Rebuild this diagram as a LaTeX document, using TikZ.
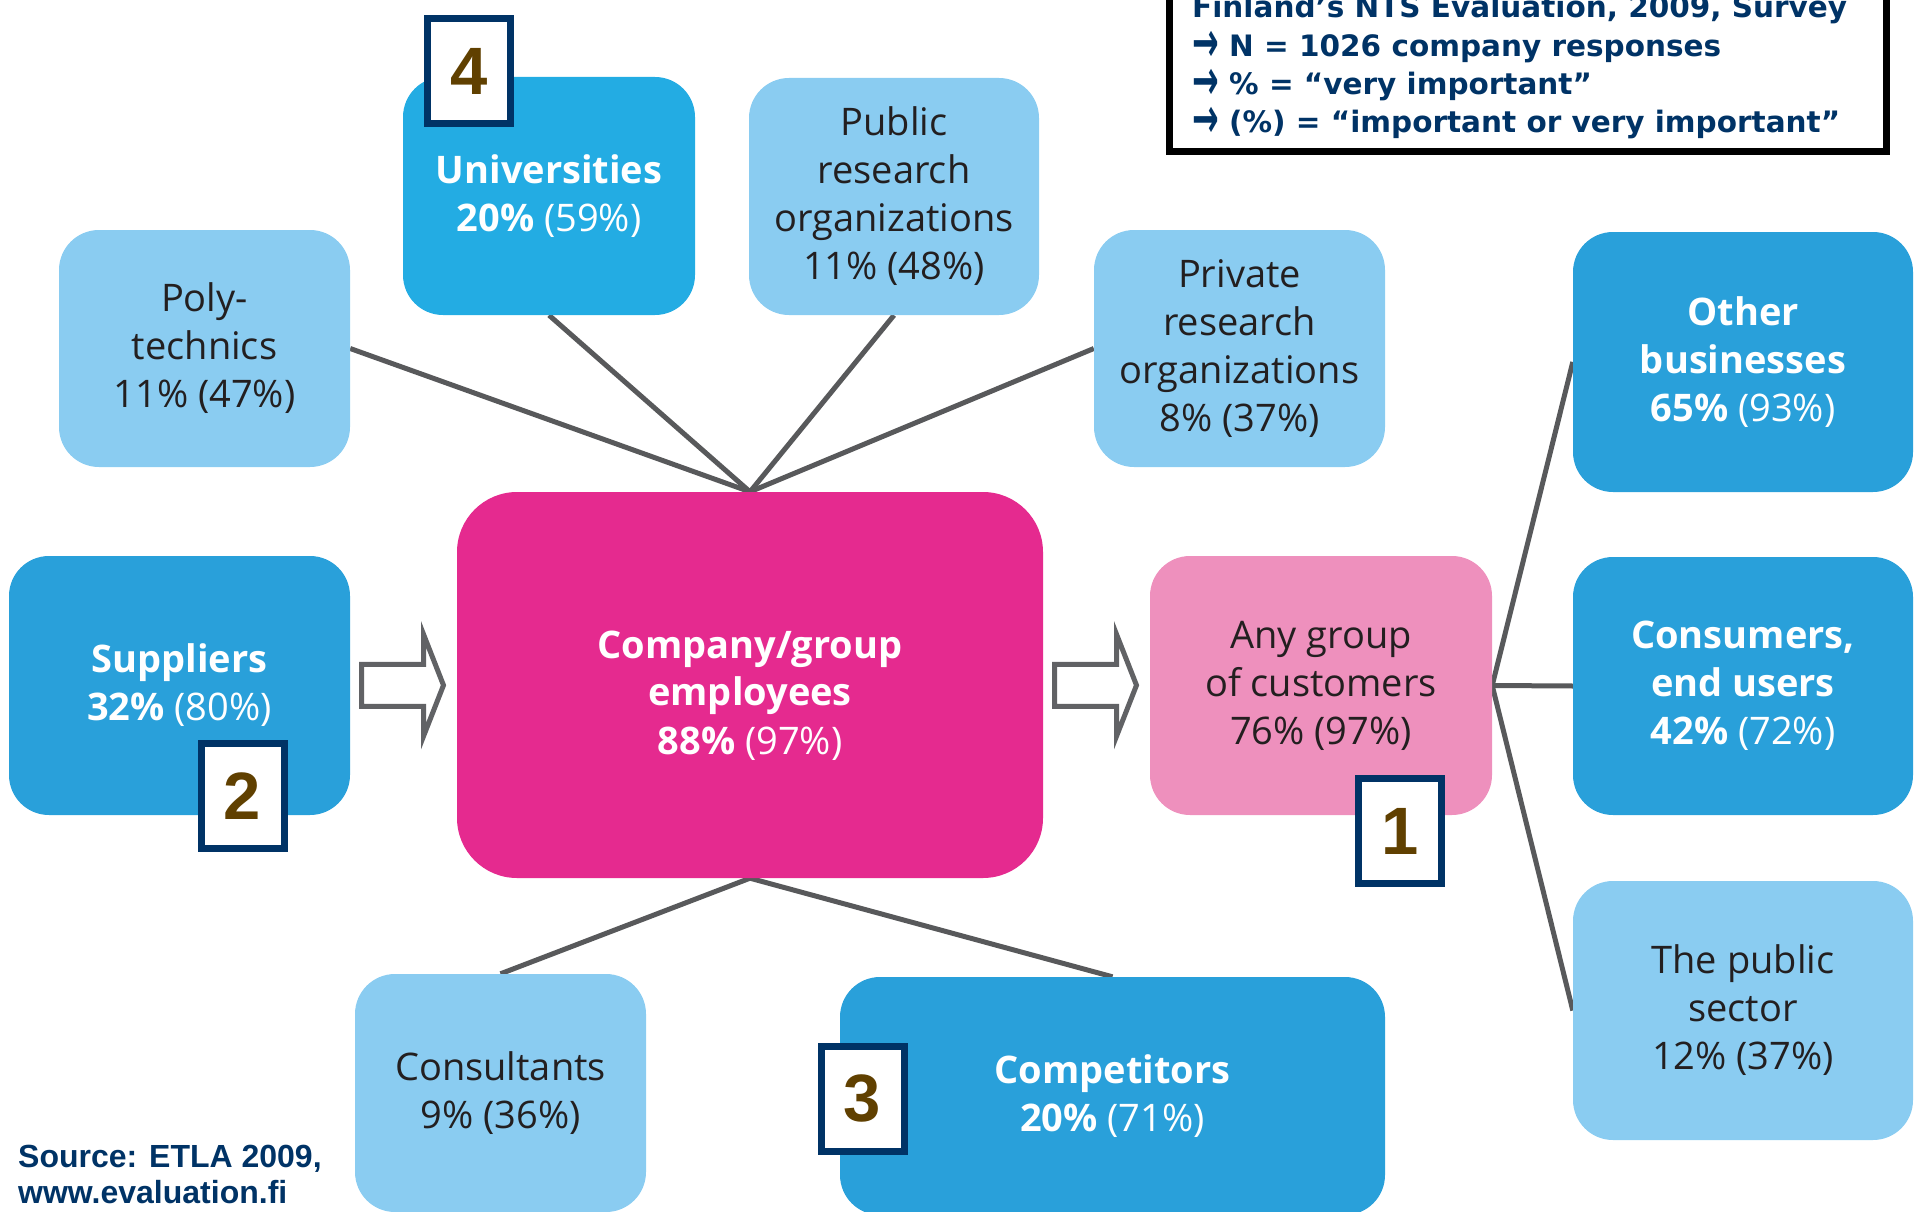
\documentclass[tikz,border=0pt]{standalone}
\usepackage{fontspec}
\setmainfont{Open Sans}
\newfontfamily\hdrfont{DejaVu Sans}
\newfontfamily\srcfont{Liberation Sans}
\usetikzlibrary{backgrounds}
\definecolor{midblue}{RGB}{41,160,218}
\definecolor{unblue}{RGB}{35,172,227}
\definecolor{lightblue}{RGB}{138,204,241}
\definecolor{magentabox}{RGB}{229,42,143}
\definecolor{pinkbox}{RGB}{238,144,189}
\definecolor{darktext}{RGB}{35,31,32}
\definecolor{linegray}{RGB}{88,89,91}
\definecolor{arrowgray}{RGB}{97,98,101}
\definecolor{navy}{RGB}{0,51,102}
\definecolor{badgebrown}{RGB}{96,64,0}
\newcommand{\notearr}{\raisebox{-5pt}[0pt][0pt]{\scalebox{1.08}[1.9]{→}}}
\begin{document}
\begin{tikzpicture}[x=1pt,y=-1pt,
  box/.style={rounded corners=40pt, inner sep=0pt, align=center, font=\fontsize{38}{48}\selectfont},
  lbox/.style={box, fill=lightblue, text=darktext},
  dbox/.style={box, fill=midblue, text=white},
  badge/.style={draw=navy, line width=7pt, fill=white, minimum width=83pt, minimum height=105pt, inner sep=0pt, text=badgebrown, font=\srcfont\bfseries\fontsize{67}{67}\selectfont},
  conn/.style={draw=linegray, line width=5pt},
  barrow/.style={draw=arrowgray, line width=5pt, fill=white, line join=miter},
  note/.style={text=navy, inner sep=0pt, anchor=base west, font=\hdrfont\bfseries\fontsize{29.5}{38}\selectfont},
  src/.style={text=navy, inner sep=0pt, anchor=base west, font=\srcfont\bfseries\fontsize{32}{38}\selectfont}
]
\useasboundingbox (0,0) rectangle (1915,1212);
\clip (0,0) rectangle (1915,1212);

% boxes
\node[lbox, minimum width=291pt, minimum height=237pt] (poly) at (204.5,348.5) {Poly-\\technics\\11\% (47\%)};
\node[box, fill=unblue, text=white, minimum width=292pt, minimum height=238pt] (univ) at (549,196) {\bfseries Universities\\{\bfseries 20\%} (59\%)};
\node[lbox, minimum width=290pt, minimum height=237pt] (pubres) at (894,196.5) {Public\\research\\organizations\\11\% (48\%)};
\node[lbox, minimum width=291pt, minimum height=237pt] (privres) at (1239.5,348.5) {Private\\research\\organizations\\8\% (37\%)};
\node[dbox, minimum width=340pt, minimum height=260pt] (other) at (1743,362) {\bfseries Other\\\bfseries businesses\\{\bfseries 65\%} (93\%)};
\node[dbox, minimum width=340pt, minimum height=258pt] (cons) at (1743,686) {\bfseries Consumers,\\\bfseries end users\\{\bfseries 42\%} (72\%)};
\node[lbox, minimum width=340pt, minimum height=259pt] (pubsec) at (1743,1010.5) {The public\\sector\\12\% (37\%)};
\node[dbox, minimum width=341pt, minimum height=259pt] (sup) at (179.5,685.5) {\bfseries Suppliers\\{\bfseries 32\%} (80\%)};
\node[box, fill=magentabox, text=white, rounded corners=60pt, minimum width=586pt, minimum height=386pt] (cen) at (750,685) {\rule{0pt}{48pt}\bfseries Company/group\\\bfseries employees\\{\bfseries 88\%} (97\%)};
\node[box, fill=pinkbox, text=darktext, minimum width=342pt, minimum height=259pt] (cust) at (1321,685.5) {Any group\\of customers\\76\% (97\%)};
\node[lbox, minimum width=291pt, minimum height=238pt] (consult) at (500.5,1093) {Consultants\\9\% (36\%)};
\node[dbox, minimum width=545pt, minimum height=238pt] (comp) at (1112.5,1096) {\bfseries Competitors\\{\bfseries 20\%} (71\%)};

% connectors
\begin{scope}[on background layer]
\draw[conn] (cen.north) -- (poly.east);
\draw[conn] (cen.north) -- (univ.south);
\draw[conn] (cen.north) -- (pubres.south);
\draw[conn] (cen.north) -- (privres.west);
\draw[conn] (cen.south) -- (consult.north);
\draw[conn] (cen.south) -- (comp.north);
\draw[conn] (cust.east) -- (other.west);
\draw[conn] (cust.east) -- (cons.west);
\draw[conn] (cust.east) -- (pubsec.west);
\end{scope}

% block arrows
\path (sup.east) -- coordinate[pos=.5] (am1) (cen.west);
\path (cen.east) -- coordinate[pos=.5] (am2) (cust.west);
\foreach \m in {am1,am2}{
\draw[barrow] ([shift={(-42,-21)}]\m) -- ([shift={(20,-21)}]\m) -- ([shift={(20,-51)}]\m) -- ([shift={(40,0)}]\m) -- ([shift={(20,51)}]\m) -- ([shift={(20,21)}]\m) -- ([shift={(-42,21)}]\m) -- cycle;
}

% badges
\node[badge] (b4) at (469,71) {4};
\node[badge] (b2) at (242.5,796) {2};
\node[badge] (b1) at (1400,831) {1};
\node[badge] (b3) at (862.5,1098.5) {3};

% note box
\draw[line width=7pt] (1169.5,-20) rectangle (1886.5,151.5);
\node[note] (n1) at (1192,18) {Finland’s NTS Evaluation, 2009, Survey};
\node[note] (n2) at (1192,57) {\notearr{} N = 1026 company responses};
\node[note] (n3) at (1192,95) {\notearr{} \% = “very important”};
\node[note] (n4) at (1192,133) {\notearr{} (\%) = “important or very important”};

% source
\node[src] (s1) at (18,1167) {Source: ETLA 2009,};
\node[src] (s2) at (18,1203) {www.evaluation.fi};
\end{tikzpicture}
\end{document}
